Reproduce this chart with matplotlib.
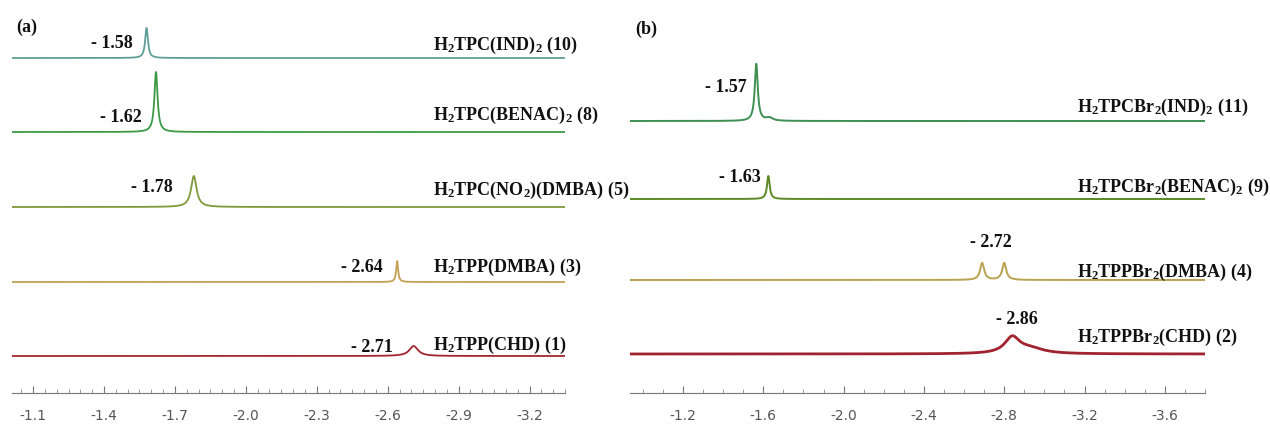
import numpy as np
import matplotlib.pyplot as plt
from matplotlib.ticker import FixedLocator, MultipleLocator, FormatStrFormatter

plt.rcParams['mathtext.fontset'] = 'custom'
plt.rcParams['mathtext.rm'] = 'Liberation Serif:bold'
plt.rcParams['mathtext.it'] = 'Liberation Serif:bold'
plt.rcParams['mathtext.bf'] = 'Liberation Serif:bold'
plt.rcParams['axes.unicode_minus'] = False

# ---- panel (a): H2TPC / H2TPP series ----
a_names = [r"H$_2$TPC(IND)$_2$ (10)", r"H$_2$TPC(BENAC)$_2$ (8)",
           r"H$_2$TPC(NO$_2$)(DMBA) (5)", r"H$_2$TPP(DMBA) (3)", r"H$_2$TPP(CHD) (1)"]
a_labels = ["- 1.58", "- 1.62", "- 1.78", "- 2.64", "- 2.71"]
a_shift = [[-1.58], [-1.62], [-1.78], [-2.64], [-2.71]]      # ppm
a_height = [[30], [60], [31], [21], [10]]
a_hwhm = [[0.007], [0.008], [0.014], [0.005], [0.022]]
a_colors = ["#5f9f97", "#3c9a45", "#7f9a3a", "#c4a055", "#a3262f"]
a_ticks = [-1.1, -1.4, -1.7, -2.0, -2.3, -2.6, -2.9, -3.2]

# ---- panel (b): brominated series ----
b_names = [r"H$_2$TPCBr$_2$(IND)$_2$ (11)", r"H$_2$TPCBr$_2$(BENAC)$_2$ (9)",
           r"H$_2$TPPBr$_2$(DMBA) (4)", r"H$_2$TPPBr$_2$(CHD) (2)"]
b_labels = ["- 1.57", "- 1.63", "- 2.72", "- 2.86"]
b_shift = [[-1.565, -1.63], [-1.625], [-2.69, -2.80], [-2.84, -2.93]]
b_height = [[57, 3], [23], [17, 17], [16, 5]]
b_hwhm = [[0.009, 0.02], [0.008], [0.012, 0.012], [0.045, 0.08]]
b_colors = ["#3f8f52", "#5b8a26", "#b9a250", "#a1232f"]
b_lw = [1.4, 1.4, 1.4, 2.0]
b_ticks = [-1.2, -1.6, -2.0, -2.4, -2.8, -3.2, -3.6]

W, H = 1270, 427
fig = plt.figure(figsize=(W / 100, H / 100), dpi=100)

serif = dict(family='Liberation Serif', weight='bold', fontsize=13, color='#111111')


def make_axes(left_px, right_px, xlim, ticks, minor):
    ax = fig.add_axes([left_px / W, 33 / H, (right_px - left_px) / W, 394 / H])
    ax.set_xlim(*xlim)
    ax.set_ylim(0, 394)
    for s in ['left', 'right', 'top']:
        ax.spines[s].set_visible(False)
    ax.spines['bottom'].set_color('#777777')
    ax.set_yticks([])
    ax.xaxis.set_major_locator(FixedLocator(ticks))
    ax.xaxis.set_minor_locator(MultipleLocator(minor))
    ax.xaxis.set_major_formatter(FormatStrFormatter('%.1f'))
    ax.tick_params(axis='x', which='major', direction='in', length=5, width=0.8,
                   color='#777777', pad=11, labelsize=10, labelcolor='#555555')
    ax.tick_params(axis='x', which='minor', direction='in', length=3, width=0.6,
                   color='#888888')
    ax.patch.set_visible(False)
    return ax


def draw(ax, shifts, heights, widths, offsets, colors, lws):
    x = np.linspace(ax.get_xlim()[0], ax.get_xlim()[1], 6000)
    for i in range(len(shifts)):
        y = np.zeros_like(x)
        for c, h, w in zip(shifts[i], heights[i], widths[i]):
            y += h / (1 + ((x - c) / w) ** 2)
        ax.plot(x, offsets[i] + y, color=colors[i], lw=lws[i], solid_capstyle='butt')


# panel (a)
ax_a = make_axes(12, 565, (-1.011, -3.35), a_ticks, 0.05)
a_offset = [335, 261, 186, 111, 37]
draw(ax_a, a_shift, a_height, a_hwhm, a_offset, a_colors, [1.3] * 5)
a_lab_x = [-1.522, -1.560, -1.691, -2.579, -2.621]
a_lab_y = [351, 277, 207, 127, 46]
a_name_y = [349, 279, 204, 127, 49]
for i in range(5):
    ax_a.text(a_lab_x[i], a_lab_y[i], a_labels[i], ha='right', va='center', **serif)
    ax_a.text(-2.79, a_name_y[i], a_names[i], ha='left', va='center', **serif)
ax_a.text(-1.03, 367, "(a)", ha='left', va='center', **serif)

# panel (b)
ax_b = make_axes(630, 1205, (-0.936, -3.80), b_ticks, 0.1)
b_offset = [272, 194, 113, 39]
draw(ax_b, b_shift, b_height, b_hwhm, b_offset, b_colors, b_lw)
b_lab_x = [-1.519, -1.588, -2.838, -2.967]
b_lab_y = [306, 217, 151, 74]
b_name_y = [287, 207, 122, 57]
for i in range(4):
    ax_b.text(b_lab_x[i], b_lab_y[i], b_labels[i], ha='right', va='center', **serif)
    ax_b.text(-3.162, b_name_y[i], b_names[i], ha='left', va='center', **serif)
ax_b.text(-0.96, 365, "(b)", ha='left', va='center', **serif)

fig.savefig("out.png", dpi=100)
